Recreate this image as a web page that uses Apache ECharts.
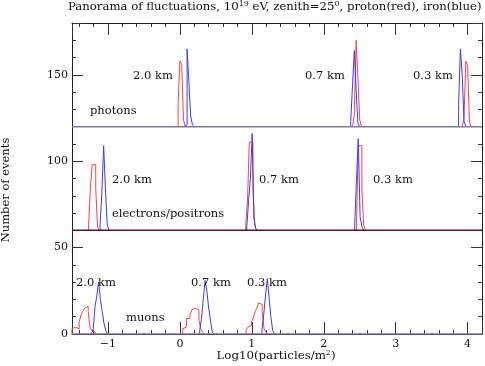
<!DOCTYPE html>
<html>
<head>
<meta charset="utf-8">
<script src="https://cdn.jsdelivr.net/npm/echarts@6/dist/echarts.min.js"></script>
<style>
html, body { margin: 0; padding: 0; background: #fff; }
#chart { width: 485px; height: 366px; }
</style>
</head>
<body>
<div id="chart"></div>
<script>
// histogram bin width in log10(particles/m^2)
var binWidth = 0.025;
var xRange = [-1.5, 4.2];
var yRange = [0, 180];

// vertical offset of each panel (muons, electrons/positrons, photons)
var panelOffsets = [0, 60, 120];
var panelNames = ['muons', 'electrons/positrons', 'photons'];
var distances = ['2.0 km', '0.7 km', '0.3 km'];

// each histogram: first bin edge + counts; order 2.0 km, 0.7 km, 0.3 km
var photonsRed = [
	{ x0: -0.025, n: [13, 38, 36, 4] },
	{ x0: 2.4, n: [1, 7, 50, 28, 4] },
	{ x0: 3.925, n: [1, 5, 38, 35, 3] }
];
var photonsBlue = [
	{ x0: 0.05, n: [1, 1, 45, 26, 6, 1] },
	{ x0: 2.375, n: [3, 24, 44, 21, 2] },
	{ x0: 3.875, n: [13, 45, 30, 3] }
];
var electronsRed = [
	{ x0: -1.27, n: [2, 24, 38, 38, 24, 2] },
	{ x0: 0.915, n: [3, 17, 51, 51, 24, 3] },
	{ x0: 2.455, n: [3, 49, 49, 24, 3] }
];
var electronsBlue = [
	{ x0: -1.11, n: [3, 22, 49, 24, 3] },
	{ x0: 0.93, n: [2, 17, 30, 56, 7, 1] },
	{ x0: 2.43, n: [3, 29, 53, 8, 2] }
];
var muonsRed = [
	{ x0: -1.5, n: [3, 4, 3, 3, 7, 11, 13, 15, 16, 13, 4, 2, 1] },
	{ x0: 0.04, n: [3, 4, 9, 9, 11, 14, 15, 16, 14, 8, 3, 1] },
	{ x0: 0.92, n: [2, 4, 5, 7, 9, 13, 15, 18, 17, 13, 3, 1] }
];
var muonsBlue = [
	{ x0: -1.23, n: [1, 3, 16, 22, 30, 20, 13, 6, 2] },
	{ x0: 0.275, n: [2, 9, 20, 31, 25, 15, 8, 1] },
	{ x0: 1.14, n: [2, 11, 22, 32, 21, 10, 2] }
];

var redColor = '#ff4040';
var blueColor = '#3a3aff';
var baseColors = ['#847a9c', '#5a1025', '#847a9c'];
var font = '"DejaVu Serif", serif';

function histPoints(h, off) {
	var pts = [[h.x0, off]];
	for (var i = 0; i < h.n.length; i++) {
		var a = h.x0 + i * binWidth;
		pts.push([a, off + h.n[i]], [a + binWidth, off + h.n[i]]);
	}
	pts.push([h.x0 + h.n.length * binWidth, off]);
	return pts;
}

var series = [];
function addHists(list, off, color) {
	list.forEach(function(h) {
		series.push({
			type: 'line',
			data: histPoints(h, off),
			symbol: 'none',
			lineStyle: { color: color, width: 1 },
			z: 3,
			silent: true
		});
	});
}
addHists(muonsRed, panelOffsets[0], redColor);
addHists(muonsBlue, panelOffsets[0], blueColor);
addHists(electronsRed, panelOffsets[1], redColor);
addHists(electronsBlue, panelOffsets[1], blueColor);
addHists(photonsRed, panelOffsets[2], redColor);
addHists(photonsBlue, panelOffsets[2], blueColor);

panelOffsets.forEach(function(off, i) {
	series.push({
		type: 'line',
		data: [[xRange[0], off], [xRange[1], off]],
		symbol: 'none',
		lineStyle: { color: baseColors[i], width: 1.5 },
		z: 4,
		silent: true
	});
});

function txt(x, y, s, extra) {
	var el = {
		type: 'text',
		x: x,
		y: y,
		z: 10,
		style: {
			text: s,
			font: '11.5px ' + font,
			fill: '#111',
			verticalAlign: 'middle'
		}
	};
	if (extra) {
		for (var k in extra.style || {}) el.style[k] = extra.style[k];
		if (extra.rotation) el.rotation = extra.rotation;
	}
	return el;
}

function supRich(size) {
	return {
		a: { fontSize: size, fontFamily: font, fontWeight: 'normal', color: '#111' },
		s: { fontSize: 8, fontFamily: font, fontWeight: 'normal', color: '#111', verticalAlign: 'top', padding: [0, 0, 5, 0] }
	};
}

var tickStyle = { color: '#333', width: 1 };
function xAxisDef(pos) {
	return {
		type: 'value',
		position: pos,
		min: xRange[0],
		max: xRange[1],
		axisLine: { show: true, onZero: false, lineStyle: { color: '#222', width: 1 } },
		axisTick: { show: true, inside: true, length: 12, lineStyle: tickStyle },
		minorTick: { show: true, splitNumber: 5, length: 4, lineStyle: tickStyle },
		axisLabel: {
			show: pos === 'bottom',
			showMinLabel: false,
			showMaxLabel: false,
			margin: 5,
			color: '#111',
			fontFamily: font,
			fontSize: 11,
			formatter: function(v) { return String(v).replace('-', '\u2212'); }
		},
		splitLine: { show: false },
		minorSplitLine: { show: false }
	};
}
function yAxisDef(pos) {
	return {
		type: 'value',
		position: pos,
		min: yRange[0],
		max: yRange[1],
		interval: 50,
		axisLine: { show: true, onZero: false, lineStyle: { color: '#222', width: 1 } },
		axisTick: { show: true, inside: true, length: 11, lineStyle: tickStyle },
		minorTick: { show: true, splitNumber: 5, length: 4, lineStyle: tickStyle },
		axisLabel: {
			show: pos === 'left',
			showMaxLabel: false,
			margin: 4,
			color: '#111',
			fontFamily: font,
			fontSize: 11
		},
		splitLine: { show: false },
		minorSplitLine: { show: false }
	};
}

var graphics = [
	// photons
	txt(133, 76, distances[0]), txt(305, 76, distances[1]), txt(413, 76, distances[2]),
	txt(90, 111, panelNames[2]),
	// electrons
	txt(112, 180, distances[0]), txt(259, 180, distances[1]), txt(373, 180, distances[2]),
	txt(112, 214, panelNames[1]),
	// muons
	txt(76, 283, distances[0]), txt(191, 283, distances[1]), txt(247, 283, distances[2]),
	txt(126, 318, panelNames[0]),
	// y axis name
	txt(6, 190, 'Number of events', { style: { align: 'center' }, rotation: Math.PI / 2 })
];

var chart = echarts.init(document.getElementById('chart'));
chart.setOption({
	animation: false,
	backgroundColor: '#fff',
	title: [{
		text: '{a|Panorama of fluctuations, 10}{s|19}{a| eV, zenith=25}{s|0}{a|, proton(red), iron(blue)}',
		left: 68,
		top: 0,
		padding: 0,
		textStyle: { rich: supRich(11.7) }
	}, {
		text: '{a|Log10(particles/m}{s|2}{a|)}',
		left: 276,
		top: 349,
		padding: 0,
		textAlign: 'center',
		textStyle: { rich: supRich(11.8) }
	}],
	grid: { left: 72, right: 3, top: 23, bottom: 32 },
	xAxis: [xAxisDef('bottom'), xAxisDef('top')],
	yAxis: [yAxisDef('left'), yAxisDef('right')],
	series: series,
	graphic: graphics
});
</script>
</body>
</html>
